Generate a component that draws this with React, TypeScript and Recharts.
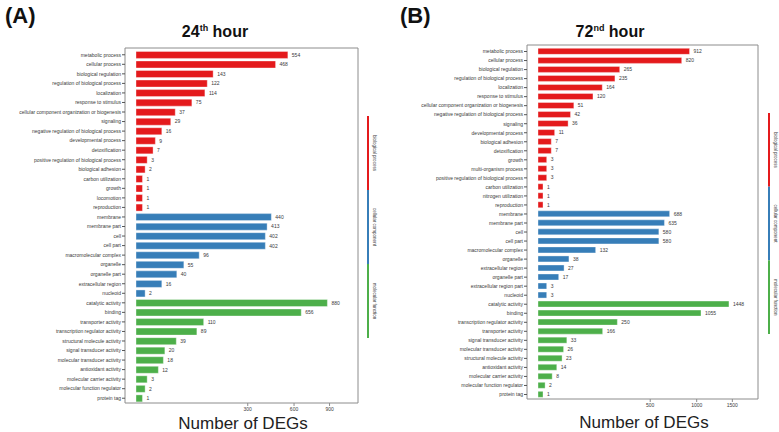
import { BarChart, Bar, XAxis, YAxis, Cell, LabelList } from 'recharts';

// GO terms and DEG counts, grouped by ontology
const bp24Terms = [
  'metabolic process',
  'cellular process',
  'biological regulation',
  'regulation of biological process',
  'localization',
  'response to stimulus',
  'cellular component organization or biogenesis',
  'signaling',
  'negative regulation of biological process',
  'developmental process',
  'detoxification',
  'positive regulation of biological process',
  'biological adhesion',
  'carbon utilization',
  'growth',
  'locomotion',
  'reproduction',
];
const bp24Counts = [554, 468, 143, 122, 114, 75, 37, 29, 16, 9, 7, 3, 2, 1, 1, 1, 1];

const cc24Terms = [
  'membrane',
  'membrane part',
  'cell',
  'cell part',
  'macromolecular complex',
  'organelle',
  'organelle part',
  'extracellular region',
  'nucleoid',
];
const cc24Counts = [440, 413, 402, 402, 96, 55, 40, 16, 2];

const mf24Terms = [
  'catalytic activity',
  'binding',
  'transporter activity',
  'transcription regulator activity',
  'structural molecule activity',
  'signal transducer activity',
  'molecular transducer activity',
  'antioxidant activity',
  'molecular carrier activity',
  'molecular function regulator',
  'protein tag',
];
const mf24Counts = [880, 656, 110, 89, 39, 20, 18, 12, 3, 2, 1];

const bp72Terms = [
  'metabolic process',
  'cellular process',
  'biological regulation',
  'regulation of biological process',
  'localization',
  'response to stimulus',
  'cellular component organization or biogenesis',
  'negative regulation of biological process',
  'signaling',
  'developmental process',
  'biological adhesion',
  'detoxification',
  'growth',
  'multi-organism process',
  'positive regulation of biological process',
  'carbon utilization',
  'nitrogen utilization',
  'reproduction',
];
const bp72Counts = [912, 820, 265, 235, 164, 120, 51, 42, 36, 11, 7, 7, 3, 3, 3, 1, 1, 1];

const cc72Terms = [
  'membrane',
  'membrane part',
  'cell',
  'cell part',
  'macromolecular complex',
  'organelle',
  'extracellular region',
  'organelle part',
  'extracellular region part',
  'nucleoid',
];
const cc72Counts = [688, 635, 580, 580, 132, 38, 27, 17, 3, 3];

const mf72Terms = [
  'catalytic activity',
  'binding',
  'transcription regulator activity',
  'transporter activity',
  'signal transducer activity',
  'molecular transducer activity',
  'structural molecule activity',
  'antioxidant activity',
  'molecular carrier activity',
  'molecular function regulator',
  'protein tag',
];
const mf72Counts = [1448, 1055, 250, 166, 33, 26, 23, 14, 8, 2, 1];

const groupNames = ['biological process', 'cellular component', 'molecular function'];
const groupColors = ['#E41A1C', '#377EB8', '#4DAF4A'];

const ticks24 = [300, 600, 900];
const ticks72 = [500, 1000, 1500];

type Row = { term: string; count: number; group: number };

function buildRows(groups: Array<[string[], number[]]>): Row[] {
  const rows: Row[] = [];
  groups.forEach(([terms, counts], g) => {
    terms.forEach((term, i) => rows.push({ term, count: counts[i], group: g }));
  });
  return rows;
}

const rows24 = buildRows([
  [bp24Terms, bp24Counts],
  [cc24Terms, cc24Counts],
  [mf24Terms, mf24Counts],
]);
const rows72 = buildRows([
  [bp72Terms, bp72Counts],
  [cc72Terms, cc72Counts],
  [mf72Terms, mf72Counts],
]);

const FONT = '"Liberation Sans", Arial, sans-serif';
const BORDER = '#8c8c8c';
const TEXT = '#3a3a3a';

// single-line category label (the default tick wraps long terms)
function TermTick({ x, y, payload }: any) {
  return (
    <text x={x} y={y} dy={1.8} textAnchor="end" fontSize={5} fill={TEXT} fontFamily={FONT}>
      {payload.value}
    </text>
  );
}

interface PanelProps {
  rows: Row[];
  width: number;
  yWidth: number;
  margin: { top: number; right: number; bottom: number; left: number };
  domainMax: number;
  ticks: number[];
}

function GoPanel({ rows, width, yWidth, margin, domainMax, ticks }: PanelProps) {
  return (
    <BarChart
      width={width}
      height={432}
      data={rows}
      layout="vertical"
      margin={margin}
      barCategoryGap="15%"
    >
      <XAxis
        type="number"
        scale="sqrt"
        domain={[0, domainMax]}
        ticks={ticks}
        padding={{ left: 11, right: 0 }}
        height={20}
        tickSize={3}
        tickMargin={1}
        tick={{ fontSize: 5, fill: TEXT, fontFamily: FONT }}
        axisLine={{ stroke: BORDER }}
        tickLine={{ stroke: BORDER }}
      />
      {/* top and right axes only close the panel frame */}
      <XAxis
        xAxisId="top"
        orientation="top"
        type="number"
        domain={[0, domainMax]}
        ticks={ticks}
        height={1}
        tick={false}
        tickLine={false}
        axisLine={{ stroke: BORDER }}
      />
      <YAxis
        type="category"
        dataKey="term"
        width={yWidth}
        interval={0}
        padding={{ top: 2, bottom: 0 }}
        tickSize={3}
        tickMargin={1}
        tick={<TermTick />}
        axisLine={{ stroke: BORDER }}
        tickLine={{ stroke: '#555' }}
      />
      <YAxis
        yAxisId="right"
        orientation="right"
        type="category"
        dataKey="term"
        width={1}
        tick={false}
        tickLine={false}
        axisLine={{ stroke: BORDER }}
      />
      <Bar
        dataKey="count"
        isAnimationActive={false}
        stroke="rgba(255,255,255,0.45)"
        strokeWidth={0.8}
      >
        {rows.map((r) => (
          <Cell key={r.term} fill={groupColors[r.group]} />
        ))}
        <LabelList
          dataKey="count"
          position="right"
          offset={4}
          style={{ fontSize: 5, fill: TEXT, fontFamily: FONT }}
        />
      </Bar>
    </BarChart>
  );
}

function GroupStrip({ x, y0, y1 }: { x: number; y0: number; y1: number }) {
  const seg = (y1 - y0) / groupNames.length;
  return (
    <g>
      {groupNames.map((name, i) => {
        const top = y0 + i * seg;
        const mid = top + seg / 2;
        return (
          <g key={name}>
            <rect x={x - 1} y={top} width={2} height={seg} fill={groupColors[i]} />
            <text
              x={x + 5}
              y={mid}
              transform={`rotate(90 ${x + 5} ${mid})`}
              textAnchor="middle"
              fontSize={4.5}
              fill={TEXT}
              fontFamily={FONT}
            >
              {name}
            </text>
          </g>
        );
      })}
    </g>
  );
}

export default function App() {
  return (
    <div
      style={{
        position: 'absolute',
        left: 0,
        top: 0,
        width: 779,
        height: 432,
        background: '#fff',
        fontFamily: FONT,
      }}
    >
      <div style={{ position: 'absolute', left: 0, top: 0 }}>
        <GoPanel
          rows={rows24}
          width={380}
          yWidth={125}
          margin={{ top: 47, right: 21, bottom: 9, left: 0 }}
          domainMax={1184}
          ticks={ticks24}
        />
      </div>
      <div style={{ position: 'absolute', left: 400, top: 0 }}>
        <GoPanel
          rows={rows72}
          width={379}
          yWidth={127}
          margin={{ top: 44, right: 20, bottom: 13, left: 0 }}
          domainMax={1922}
          ticks={ticks72}
        />
      </div>
      <svg
        width={779}
        height={432}
        style={{ position: 'absolute', left: 0, top: 0, pointerEvents: 'none' }}
      >
        <text x={5} y={23} fontSize={22} fontWeight="bold" fill="#111" fontFamily={FONT}>
          (A)
        </text>
        <text x={400} y={23} fontSize={22} fontWeight="bold" fill="#111" fontFamily={FONT}>
          (B)
        </text>
        <text x={215} y={37} textAnchor="middle" fontSize={16} fontWeight="bold" fill="#111" fontFamily={FONT}>
          24
          <tspan dy={-6} fontSize={9}>th</tspan>
          <tspan dy={6}> hour</tspan>
        </text>
        <text x={610} y={37} textAnchor="middle" fontSize={16} fontWeight="bold" fill="#111" fontFamily={FONT}>
          72
          <tspan dy={-6} fontSize={9}>nd</tspan>
          <tspan dy={6}> hour</tspan>
        </text>
        <text x={243} y={429} textAnchor="middle" fontSize={17} fill="#222" fontFamily={FONT}>
          Number of DEGs
        </text>
        <text x={644} y={428} textAnchor="middle" fontSize={17} fill="#222" fontFamily={FONT}>
          Number of DEGs
        </text>
        <GroupStrip x={368} y0={116} y1={338} />
        <GroupStrip x={769} y0={113} y1={334} />
      </svg>
    </div>
  );
}
